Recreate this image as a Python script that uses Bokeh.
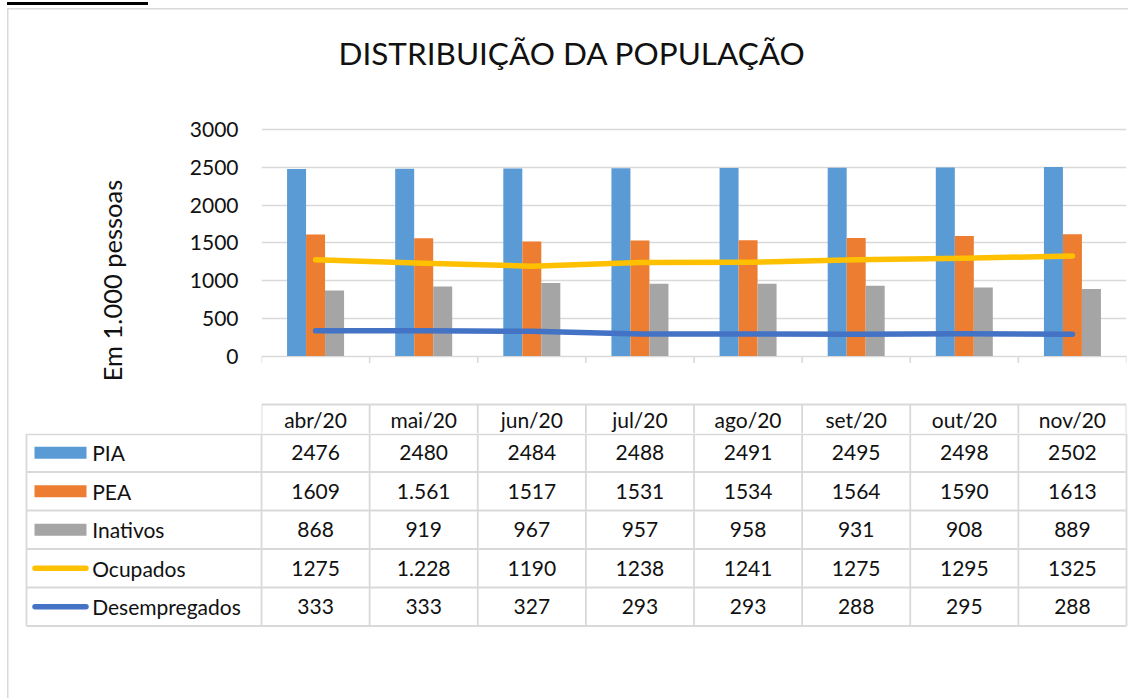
from bokeh.plotting import figure
from bokeh.layouts import column
from bokeh.models import ColumnDataSource, FactorRange, Range1d, FixedTicker
from bokeh.transform import dodge
from bokeh.embed import file_html
from bokeh.resources import INLINE
from bokeh.core.properties import value

# ---------------- data ----------------
months = ["abr/20", "mai/20", "jun/20", "jul/20", "ago/20", "set/20", "out/20", "nov/20"]
pia = [2476, 2480, 2484, 2488, 2491, 2495, 2498, 2502]
pea = [1609, 1561, 1517, 1531, 1534, 1564, 1590, 1613]
inativos = [868, 919, 967, 957, 958, 931, 908, 889]
ocupados = [1275, 1228, 1190, 1238, 1241, 1275, 1295, 1325]
desempregados = [333, 333, 327, 293, 293, 288, 295, 288]
y_ticks = [0, 500, 1000, 1500, 2000, 2500, 3000]
series_names = ["PIA", "PEA", "Inativos", "Ocupados", "Desempregados"]
# cells that the source table prints with a thousands dot
dotted_cells = {"PEA": [1], "Ocupados": [1]}
title_text = "DISTRIBUIÇÃO DA POPULAÇÃO"
y_label_text = "Em 1.000 pessoas"

# ---------------- style ----------------
FONT = "Lato"
TXT = "#111111"
GRID = "#D9D9D9"
colors = {"PIA": "#5B9BD5", "PEA": "#ED7D31", "Inativos": "#A5A5A5",
          "Ocupados": "#FFC000", "Desempregados": "#4472C4"}

W, H = 1128, 698
FRAME_L, FRAME_R, FRAME_T = 261.0, 1126.0, 127.0
ZERO_Y, PX_PER_UNIT = 355.5, 0.0755
CELL_W = (FRAME_R - FRAME_L) / len(months)
SPLIT_Y = 433.0          # chart figure ends / table figure starts here


def sy(py):
    return (ZERO_Y - py) / PX_PER_UNIT


# ---------------- chart ----------------
p1 = figure(width=W, height=int(SPLIT_Y),
            x_range=FactorRange(factors=months),
            y_range=Range1d(sy(SPLIT_Y), sy(FRAME_T)),
            x_axis_location=None,
            output_backend="svg", toolbar_location=None,
            min_border_left=int(FRAME_L), min_border_right=int(W - FRAME_R),
            min_border_top=int(FRAME_T), min_border_bottom=0,
            outline_line_color=None, border_fill_color=None)
p1.frame_align = False

p1.title.text = title_text
p1.title.align = "left"
p1.title.vertical_align = "bottom"
p1.title.offset = 77
p1.title.standoff = 0
p1.title.padding = {"left": 0, "right": 0, "top": 0, "bottom": 56}
p1.title.text_font = FONT
p1.title.text_font_size = "31.5px"
p1.title.text_font_style = "normal"
p1.title.text_color = TXT

ticker = FixedTicker(ticks=y_ticks)
p1.yaxis.ticker = ticker
p1.ygrid.ticker = ticker
p1.xgrid.visible = False
p1.ygrid.grid_line_color = GRID
p1.ygrid.grid_line_width = 1.5
ax = p1.yaxis[0]
ax.axis_line_color = None
ax.major_tick_line_color = None
ax.minor_tick_line_color = None
ax.major_label_text_font = FONT
ax.major_label_text_font_size = "21px"
ax.major_label_text_color = TXT
ax.major_label_standoff = 17
ax.axis_label = y_label_text
ax.axis_label_text_font = FONT
ax.axis_label_text_font_size = "25.5px"
ax.axis_label_text_font_style = "normal"
ax.axis_label_text_color = TXT
ax.axis_label_standoff = 60

src = ColumnDataSource(dict(month=months, pia=pia, pea=pea, inativos=inativos,
                            ocupados=ocupados, desempregados=desempregados))
bar_w = 19.0 / CELL_W
for off, col, name in [(-bar_w, "pia", "PIA"), (0.0, "pea", "PEA"), (bar_w, "inativos", "Inativos")]:
    p1.vbar(x=dodge("month", off, range=p1.x_range), top=col, width=bar_w, bottom=0,
            source=src, fill_color=colors[name], line_color=None)

for col, name in [("ocupados", "Ocupados"), ("desempregados", "Desempregados")]:
    p1.line(x="month", y=col, source=src, line_color=colors[name], line_width=5.5,
            line_cap="round", line_join="round")

# category boundary tick marks below the axis line
bounds = list(range(len(months) + 1))
tick_len = 7 / PX_PER_UNIT
p1.segment(x0=bounds, y0=[0] * len(bounds), x1=bounds, y1=[-tick_len] * len(bounds),
           line_color=GRID, line_width=1.5)

# data-table header row (months) lies inside the chart figure
HEAD_TOP = 404.0
p1.segment(x0=[0], y0=[sy(HEAD_TOP)], x1=[len(months)], y1=[sy(HEAD_TOP)],
           line_color=GRID, line_width=1.8)
p1.segment(x0=bounds, y0=[sy(HEAD_TOP)] * len(bounds), x1=bounds,
           y1=[sy(SPLIT_Y)] * len(bounds), line_color=GRID, line_width=1.8)
p1.text(x="month", y=sy((HEAD_TOP + SPLIT_Y) / 2), text="month", source=src,
        text_align="center", text_baseline="middle", text_font=value(FONT),
        text_font_size=value("21px"), text_color=TXT)

# ---------------- data table rows ----------------
p2 = figure(width=W, height=int(H - SPLIT_Y), x_range=Range1d(0, W),
            y_range=Range1d(H, SPLIT_Y),
            x_axis_location=None, y_axis_location=None,
            output_backend="svg", toolbar_location=None,
            min_border=0, outline_line_color=None,
            border_fill_color=None, background_fill_color=None)
p2.frame_align = False
p2.grid.visible = False

ROW_H, LABEL_L = 38.5, 26.0
col_edges = [FRAME_L + i * CELL_W for i in range(len(months) + 1)]
row_edges = [SPLIT_Y + j * ROW_H for j in range(len(series_names) + 1)]
col_centers = [(a + b) / 2 for a, b in zip(col_edges[:-1], col_edges[1:])]
row_centers = [(a + b) / 2 for a, b in zip(row_edges[:-1], row_edges[1:])]

hy = [SPLIT_Y + 0.9] + row_edges[1:]
p2.segment(x0=[LABEL_L] * len(hy), y0=hy, x1=[FRAME_R] * len(hy), y1=hy,
           line_color=GRID, line_width=1.8)
vx = [LABEL_L] + col_edges
p2.segment(x0=vx, y0=[SPLIT_Y] * len(vx), x1=vx, y1=[row_edges[-1]] * len(vx),
           line_color=GRID, line_width=1.8)

text_kw = dict(text_font=value(FONT), text_font_size=value("21px"), text_color=TXT,
               text_baseline="middle")
series_vals = [pia, pea, inativos, ocupados, desempregados]
cx, cy, ct = [], [], []
for name, vals, rc in zip(series_names, series_vals, row_centers):
    for i, (v, xc) in enumerate(zip(vals, col_centers)):
        s = f"{v:,}".replace(",", ".") if i in dotted_cells.get(name, []) else str(v)
        cx.append(xc)
        cy.append(rc)
        ct.append(s)
p2.text(x=cx, y=cy, text=ct, text_align="center", **text_kw)

# row headers with legend keys
p2.text(x=[91.7] * len(series_names), y=row_centers, text=series_names,
        text_align="left", **text_kw)
for name, rc in zip(series_names[:3], row_centers[:3]):
    p2.rect(x=[60], y=[rc], width=52, height=12, fill_color=colors[name], line_color=None)
for name, rc in zip(series_names[3:], row_centers[3:]):
    p2.segment(x0=[34.5], y0=[rc], x1=[85.5], y1=[rc], line_color=colors[name],
               line_width=5.5, line_cap="round")

# outer chart-area border and the black mark above it (page decoration)
bg = ("linear-gradient(#000,#000) 7px 2px / 141px 3px no-repeat, "
      "linear-gradient(#D9D9D9,#D9D9D9) 7px 8px / 100% 1.5px no-repeat, "
      "linear-gradient(#D9D9D9,#D9D9D9) 7px 8px / 1.5px 100% no-repeat, #ffffff")
layout = column(p1, p2, styles={"background": bg})
open("out.html", "w").write(file_html(layout, INLINE))
